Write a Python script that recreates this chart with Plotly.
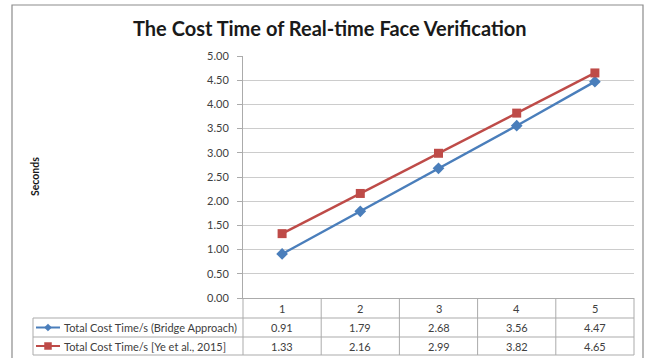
import plotly.graph_objects as go

categories = [1, 2, 3, 4, 5]
bridge = [0.91, 1.79, 2.68, 3.56, 4.47]
ye2015 = [1.33, 2.16, 2.99, 3.82, 4.65]
series_names = ["Total Cost Time/s (Bridge Approach)", "Total Cost Time/s [Ye et al., 2015]"]
y_ticks = [0, 0.5, 1, 1.5, 2, 2.5, 3, 3.5, 4, 4.5, 5]

W, H = 651, 358
BLUE = "#4A7EBB"
RED = "#BE4B48"
GRID = "#CCCCCC"
BORDER = "#ABABAB"
TXT = "#404040"
FONT = "Lato"


def px(x):
    return x / W


def py(y):
    return 1 - y / H


# layout geometry (pixels)
PL, PR, PT, PB = 243, 634, 56, 298
ROW_Y = [298, 318, 337, 355]
LAB_L = 33

fig = go.Figure()
fig.add_trace(go.Scatter(x=categories, y=bridge, mode="lines+markers", name=series_names[0],
                         line=dict(color=BLUE, width=2.4),
                         marker=dict(symbol="diamond", size=9, color=BLUE)))
fig.add_trace(go.Scatter(x=categories, y=ye2015, mode="lines+markers", name=series_names[1],
                         line=dict(color=RED, width=2.4),
                         marker=dict(symbol="square", size=9, color=RED)))

shapes = []
# outer frame
shapes.append(dict(type="rect", xref="paper", yref="paper", x0=px(12), x1=px(643), y0=py(365), y1=py(5),
                   line=dict(color="#8C8C8C", width=1.2), layer="below"))
# table horizontal lines
for yy in ROW_Y[1:]:
    shapes.append(dict(type="line", xref="paper", yref="paper", x0=px(LAB_L), x1=px(PR), y0=py(yy), y1=py(yy),
                       line=dict(color=BORDER, width=1)))
# table vertical lines: label column left, plot edges and category boundaries
shapes.append(dict(type="line", xref="paper", yref="paper", x0=px(LAB_L), x1=px(LAB_L), y0=py(ROW_Y[1]), y1=py(ROW_Y[3]),
                   line=dict(color=BORDER, width=1)))
for xx in [PL, PR]:
    shapes.append(dict(type="line", xref="paper", yref="paper", x0=px(xx), x1=px(xx), y0=py(ROW_Y[0]), y1=py(ROW_Y[3]),
                       line=dict(color=BORDER, width=1)))
for c in categories[:-1]:
    shapes.append(dict(type="line", xref="x", yref="paper", x0=c + 0.5, x1=c + 0.5, y0=py(ROW_Y[0]), y1=py(ROW_Y[3]),
                       line=dict(color=BORDER, width=1)))

# legend keys inside the table
row_centers = [(ROW_Y[1] + ROW_Y[2]) / 2, (ROW_Y[2] + ROW_Y[3]) / 2]
kx0, kx1, kc = 36, 60, 48
for i, (col, sym) in enumerate([(BLUE, "diamond"), (RED, "square")]):
    yc = row_centers[i]
    shapes.append(dict(type="line", xref="paper", yref="paper", x0=px(kx0), x1=px(kx1), y0=py(yc), y1=py(yc),
                       line=dict(color=col, width=2)))
    if sym == "diamond":
        d = 3.6
        path = f"M {px(kc)} {py(yc - d)} L {px(kc + d)} {py(yc)} L {px(kc)} {py(yc + d)} L {px(kc - d)} {py(yc)} Z"
        shapes.append(dict(type="path", xref="paper", yref="paper", path=path, fillcolor=col, line=dict(color=col, width=0.5)))
    else:
        d = 3.5
        shapes.append(dict(type="rect", xref="paper", yref="paper", x0=px(kc - d), x1=px(kc + d), y0=py(yc + d), y1=py(yc - d),
                           fillcolor=col, line=dict(color=col, width=0.5)))

annotations = []
# title
annotations.append(dict(text="<b>The Cost Time of Real-time Face Verification</b>", xref="paper", yref="paper",
                        x=px(330), y=py(28), showarrow=False, xanchor="center", yanchor="middle",
                        font=dict(family=FONT, size=20, color="#1A1A1A")))
# y axis title
annotations.append(dict(text="<b>Seconds</b>", xref="paper", yref="paper", x=px(35), y=py(177), textangle=-90,
                        showarrow=False, xanchor="center", yanchor="middle",
                        font=dict(family=FONT, size=10.5, color="#1A1A1A")))
# table header (categories)
hdr_c = (ROW_Y[0] + ROW_Y[1]) / 2
for c in categories:
    annotations.append(dict(text=str(c), xref="x", yref="paper", x=c, y=py(hdr_c), showarrow=False,
                            xanchor="center", yanchor="middle", font=dict(family=FONT, size=11, color=TXT)))
# table rows
for i, vals in enumerate([bridge, ye2015]):
    annotations.append(dict(text=series_names[i], xref="paper", yref="paper", x=px(62), y=py(row_centers[i]),
                            showarrow=False, xanchor="left", yanchor="middle",
                            font=dict(family=FONT, size=11, color=TXT)))
    for c, v in zip(categories, vals):
        annotations.append(dict(text=f"{v:.2f}", xref="x", yref="paper", x=c, y=py(row_centers[i]), showarrow=False,
                                xanchor="center", yanchor="middle", font=dict(family=FONT, size=11, color=TXT)))

fig.update_layout(
    width=W, height=H, autosize=False, margin=dict(l=0, r=0, t=0, b=0, autoexpand=False),
    paper_bgcolor="white", plot_bgcolor="white", showlegend=False,
    font=dict(family=FONT, size=11, color=TXT),
    xaxis=dict(domain=[px(PL), px(PR)], range=[0.5, 5.5], showticklabels=False, showgrid=False, automargin=False,
               zeroline=False, showline=True, linecolor=BORDER, linewidth=1, ticks="", fixedrange=True),
    yaxis=dict(domain=[py(PB), py(PT)], range=[0, 5], tickvals=y_ticks, tickformat=".2f", automargin=False,
               showgrid=True, gridcolor=GRID, gridwidth=1.3, zeroline=False,
               showline=True, linecolor=BORDER, linewidth=1, ticks="outside", ticklen=5, tickcolor=BORDER,
               ticklabelstandoff=6, tickfont=dict(family=FONT, size=11, color=TXT), fixedrange=True),
    shapes=shapes, annotations=annotations,
)

fig.write_html("out.html", config={"displayModeBar": False, "responsive": False},
               post_script="document.body.style.margin='0';document.body.style.overflow='hidden';")
